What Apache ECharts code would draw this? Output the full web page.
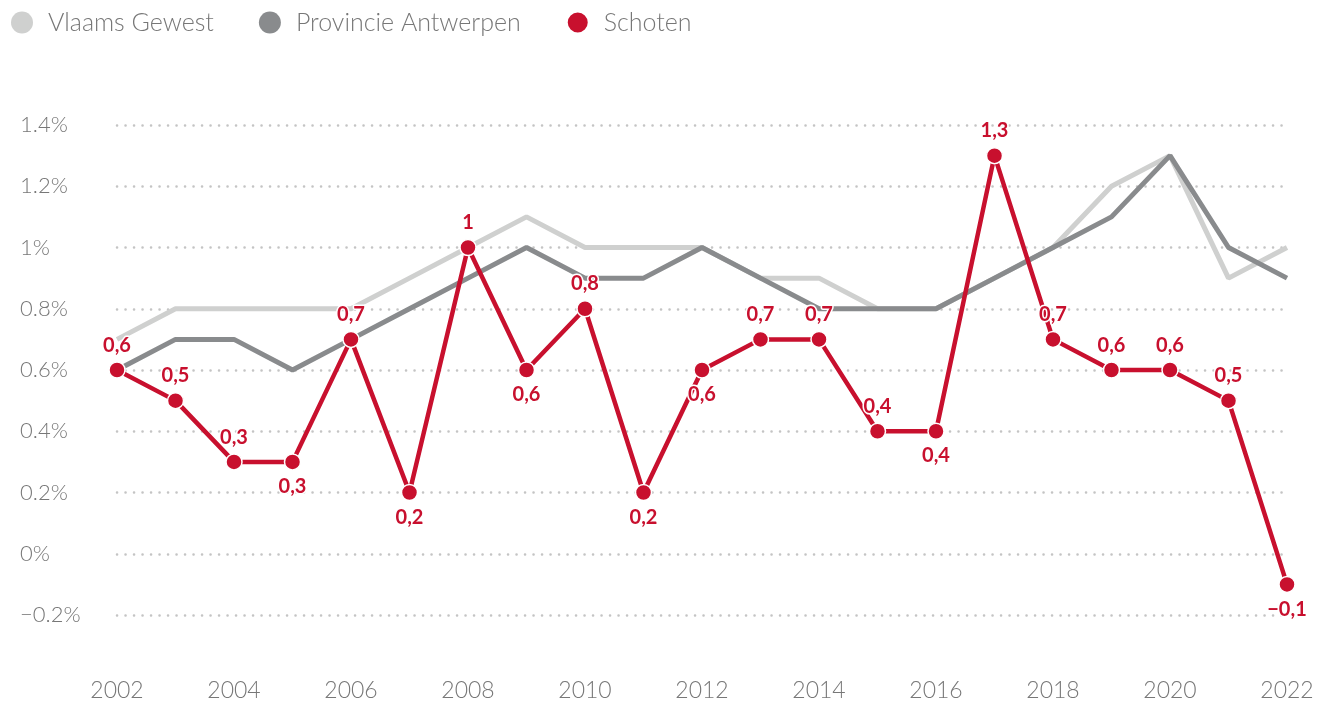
<!DOCTYPE html>
<html>
<head>
<meta charset="utf-8">
<script src="https://cdn.jsdelivr.net/npm/echarts@6/dist/echarts.min.js"></script>
<style>
  html, body { margin: 0; padding: 0; background: #fff; }
  #chart { width: 1330px; height: 706px; }
</style>
</head>
<body>
<div id="chart"></div>
<script>
var years = ['2002','2003','2004','2005','2006','2007','2008','2009','2010','2011','2012',
             '2013','2014','2015','2016','2017','2018','2019','2020','2021','2022'];
var vlaamsGewest = [0.7,0.8,0.8,0.8,0.8,0.9,1.0,1.1,1.0,1.0,1.0,0.9,0.9,0.8,0.8,0.9,1.0,1.2,1.3,0.9,1.0];
var provAntwerpen = [0.6,0.7,0.7,0.6,0.7,0.8,0.9,1.0,0.9,0.9,1.0,0.9,0.8,0.8,0.8,0.9,1.0,1.1,1.3,1.0,0.9];
var schoten = [0.6,0.5,0.3,0.3,0.7,0.2,1.0,0.6,0.8,0.2,0.6,0.7,0.7,0.4,0.4,1.3,0.7,0.6,0.6,0.5,-0.1];
// jaren waarvan het label onder het punt staat
var labelsBelow = ['2005','2007','2009','2011','2012','2016','2022'];

var red = '#c8102e';
var fontFam = 'Lato, "Open Sans", sans-serif';

function fmtComma(v) {
    return String(v).replace('.', ',').replace('-', '\u2212');
}

var schotenData = schoten.map(function (v, i) {
    return {
        value: v,
        label: { position: labelsBelow.indexOf(years[i]) >= 0 ? 'bottom' : 'top' }
    };
});

var myChart = echarts.init(document.getElementById('chart'));
var option = {
    animation: false,
    legend: {
        left: 6,
        top: 5,
        icon: 'circle',
        itemWidth: 22,
        itemHeight: 22,
        itemGap: 45,
        textStyle: { fontFamily: fontFam, fontSize: 25, fontWeight: 300, color: '#777', padding: [0, 0, 0, 10] },
        data: ['Vlaams Gewest', 'Provincie Antwerpen', 'Schoten']
    },
    grid: { left: 117, right: 43, top: 125, bottom: 91 },
    xAxis: {
        type: 'category',
        data: years,
        boundaryGap: false,
        axisLine: { show: false },
        axisTick: { show: false },
        axisLabel: {
            interval: 1,
            margin: 64,
            fontFamily: fontFam,
            fontSize: 23,
            fontWeight: 300,
            color: '#777'
        }
    },
    yAxis: {
        type: 'value',
        min: -0.2,
        max: 1.4,
        interval: 0.2,
        axisLine: { show: false },
        axisTick: { show: false },
        axisLabel: {
            align: 'left',
            margin: 97,
            fontFamily: fontFam,
            fontSize: 22,
            fontWeight: 300,
            color: '#777',
            formatter: function (v) {
                return String(Math.round(v * 10) / 10).replace('-', '\u2212') + '%';
            }
        },
        splitLine: {
            lineStyle: { color: '#c4c4c4', width: 2.5, type: [0.1, 8.4], cap: 'round' }
        }
    },
    series: [
        {
            name: 'Vlaams Gewest',
            type: 'line',
            data: vlaamsGewest,
            symbol: 'none',
            color: '#cfd0cf',
            lineStyle: { width: 5, color: '#cfd0cf' },
            z: 2
        },
        {
            name: 'Provincie Antwerpen',
            type: 'line',
            data: provAntwerpen,
            symbol: 'none',
            color: '#898b8d',
            lineStyle: { width: 5, color: '#898b8d' },
            z: 3
        },
        {
            name: 'Schoten',
            type: 'line',
            data: schotenData,
            symbol: 'circle',
            symbolSize: 16,
            color: red,
            itemStyle: { color: red, borderColor: '#fff', borderWidth: 1.5 },
            lineStyle: { width: 4.5, color: red },
            label: {
                show: true,
                distance: 6,
                fontFamily: fontFam,
                fontSize: 20,
                fontWeight: 'bold',
                color: red,
                textBorderColor: '#fff',
                textBorderWidth: 3,
                formatter: function (p) { return fmtComma(p.value); }
            },
            z: 4
        }
    ]
};
myChart.setOption(option);
</script>
</body>
</html>
